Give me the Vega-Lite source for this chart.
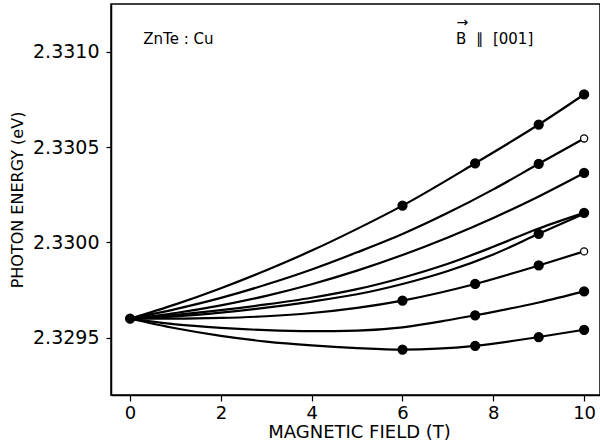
{
  "$schema": "https://vega.github.io/schema/vega-lite/v6.json",
  "width": 489,
  "height": 391,
  "autosize": "none",
  "padding": {"left": 111, "top": 4, "right": 0, "bottom": 49},
  "background": "white",
  "config": {
    "view": {"stroke": "black", "strokeWidth": 1.5},
    "font": "DejaVu Sans",
    "axis": {
      "grid": false,
      "domainColor": "black",
      "domainWidth": 1.5,
      "tickColor": "black",
      "tickWidth": 1.2,
      "labelColor": "black",
      "titleColor": "black",
      "labelFont": "DejaVu Sans",
      "titleFont": "DejaVu Sans",
      "titleFontWeight": "normal"
    }
  },
  "datasets": {
    "curves": [
      {"c": 1, "x": 0, "y": 2.3296, "m": "f"},
      {"c": 1, "x": 1, "y": 2.329675, "m": ""},
      {"c": 1, "x": 2, "y": 2.32976, "m": ""},
      {"c": 1, "x": 3, "y": 2.329854, "m": ""},
      {"c": 1, "x": 4, "y": 2.329957, "m": ""},
      {"c": 1, "x": 5, "y": 2.330071, "m": ""},
      {"c": 1, "x": 6, "y": 2.330193, "m": "f"},
      {"c": 1, "x": 7.6, "y": 2.330415, "m": "f"},
      {"c": 1, "x": 9, "y": 2.330618, "m": "f"},
      {"c": 1, "x": 10, "y": 2.330776, "m": "f"},

      {"c": 2, "x": 0, "y": 2.3296, "m": ""},
      {"c": 2, "x": 1, "y": 2.32965, "m": ""},
      {"c": 2, "x": 2, "y": 2.329709, "m": ""},
      {"c": 2, "x": 3, "y": 2.329779, "m": ""},
      {"c": 2, "x": 4, "y": 2.329858, "m": ""},
      {"c": 2, "x": 5, "y": 2.329948, "m": ""},
      {"c": 2, "x": 6, "y": 2.330044, "m": ""},
      {"c": 2, "x": 7, "y": 2.330155, "m": ""},
      {"c": 2, "x": 8, "y": 2.330278, "m": ""},
      {"c": 2, "x": 9, "y": 2.330412, "m": "f"},
      {"c": 2, "x": 10, "y": 2.330545, "m": "o"},

      {"c": 3, "x": 0, "y": 2.3296, "m": ""},
      {"c": 3, "x": 1, "y": 2.32963, "m": ""},
      {"c": 3, "x": 2, "y": 2.32967, "m": ""},
      {"c": 3, "x": 3, "y": 2.32972, "m": ""},
      {"c": 3, "x": 4, "y": 2.329781, "m": ""},
      {"c": 3, "x": 5, "y": 2.329852, "m": ""},
      {"c": 3, "x": 6, "y": 2.329934, "m": ""},
      {"c": 3, "x": 7, "y": 2.330026, "m": ""},
      {"c": 3, "x": 8, "y": 2.330128, "m": ""},
      {"c": 3, "x": 9, "y": 2.330241, "m": ""},
      {"c": 3, "x": 10, "y": 2.330364, "m": "f"},

      {"c": 4, "x": 0, "y": 2.3296, "m": ""},
      {"c": 4, "x": 1, "y": 2.32962, "m": ""},
      {"c": 4, "x": 2, "y": 2.329645, "m": ""},
      {"c": 4, "x": 3, "y": 2.329675, "m": ""},
      {"c": 4, "x": 4, "y": 2.32971, "m": ""},
      {"c": 4, "x": 5, "y": 2.329755, "m": ""},
      {"c": 4, "x": 6, "y": 2.329815, "m": ""},
      {"c": 4, "x": 7, "y": 2.329888, "m": ""},
      {"c": 4, "x": 8, "y": 2.329977, "m": ""},
      {"c": 4, "x": 9, "y": 2.330073, "m": ""},
      {"c": 4, "x": 10, "y": 2.330155, "m": "f"},

      {"c": 5, "x": 0, "y": 2.3296, "m": ""},
      {"c": 5, "x": 1, "y": 2.329612, "m": ""},
      {"c": 5, "x": 2, "y": 2.329632, "m": ""},
      {"c": 5, "x": 3, "y": 2.329658, "m": ""},
      {"c": 5, "x": 4, "y": 2.32969, "m": ""},
      {"c": 5, "x": 5, "y": 2.329728, "m": ""},
      {"c": 5, "x": 6, "y": 2.329782, "m": ""},
      {"c": 5, "x": 7, "y": 2.32985, "m": ""},
      {"c": 5, "x": 8, "y": 2.329937, "m": ""},
      {"c": 5, "x": 9, "y": 2.330045, "m": "f"},
      {"c": 5, "x": 10, "y": 2.33015, "m": ""},

      {"c": 6, "x": 0, "y": 2.3296, "m": ""},
      {"c": 6, "x": 1, "y": 2.3296, "m": ""},
      {"c": 6, "x": 2, "y": 2.329604, "m": ""},
      {"c": 6, "x": 3, "y": 2.329613, "m": ""},
      {"c": 6, "x": 4, "y": 2.32963, "m": ""},
      {"c": 6, "x": 5, "y": 2.329657, "m": ""},
      {"c": 6, "x": 6, "y": 2.329695, "m": "f"},
      {"c": 6, "x": 7.6, "y": 2.329782, "m": "f"},
      {"c": 6, "x": 9, "y": 2.329879, "m": "f"},
      {"c": 6, "x": 10, "y": 2.329953, "m": "o"},

      {"c": 7, "x": 0, "y": 2.3296, "m": ""},
      {"c": 7, "x": 1, "y": 2.32957, "m": ""},
      {"c": 7, "x": 2, "y": 2.329552, "m": ""},
      {"c": 7, "x": 3, "y": 2.32954, "m": ""},
      {"c": 7, "x": 4, "y": 2.329535, "m": ""},
      {"c": 7, "x": 5, "y": 2.329538, "m": ""},
      {"c": 7, "x": 6, "y": 2.329555, "m": ""},
      {"c": 7, "x": 7, "y": 2.329592, "m": ""},
      {"c": 7, "x": 7.6, "y": 2.329618, "m": "f"},
      {"c": 7, "x": 9, "y": 2.329685, "m": ""},
      {"c": 7, "x": 10, "y": 2.329743, "m": "f"},

      {"c": 8, "x": 0, "y": 2.3296, "m": ""},
      {"c": 8, "x": 1, "y": 2.32955, "m": ""},
      {"c": 8, "x": 2, "y": 2.32951, "m": ""},
      {"c": 8, "x": 3, "y": 2.32948, "m": ""},
      {"c": 8, "x": 4, "y": 2.32946, "m": ""},
      {"c": 8, "x": 5, "y": 2.329446, "m": ""},
      {"c": 8, "x": 6, "y": 2.329438, "m": "f"},
      {"c": 8, "x": 7.6, "y": 2.329458, "m": "f"},
      {"c": 8, "x": 9, "y": 2.329504, "m": "f"},
      {"c": 8, "x": 10, "y": 2.329542, "m": "f"}
    ],
    "labels": [
      {"x": 0.29, "y": 2.331038, "t": "ZnTe : Cu"},
      {"x": 7.18, "y": 2.331038, "t": "B\u00a0\u00a0∥\u00a0\u00a0[001]"}
    ],
    "arrow": [
      {"x": 7.32, "y": 2.33113, "t": "→"}
    ]
  },
  "layer": [
    {
      "data": {"name": "curves"},
      "mark": {"type": "line", "interpolate": "monotone", "color": "black", "strokeWidth": 2.2, "clip": true},
      "encoding": {
        "x": {
          "field": "x", "type": "quantitative",
          "scale": {"domain": [-0.42, 10.35], "nice": false, "zero": false},
          "axis": {
            "values": [0, 2, 4, 6, 8, 10],
            "format": "d",
            "labelFontSize": 18,
            "labelPadding": 3,
            "tickSize": 6,
            "title": "MAGNETIC FIELD (T)",
            "titleFontSize": 18,
            "titleX": 248,
            "titleY": 42,
            "titleBaseline": "alphabetic",
            "titleAnchor": "middle",
            "titleAlign": "center"
          }
        },
        "y": {
          "field": "y", "type": "quantitative",
          "scale": {"domain": [2.3292, 2.33125], "nice": false, "zero": false},
          "axis": {
            "values": [2.3295, 2.33, 2.3305, 2.331],
            "format": ".4f",
            "labelFontSize": 19,
            "labelPadding": 7,
            "tickSize": 5,
            "title": "PHOTON ENERGY (eV)",
            "titleFontSize": 16,
            "titleAngle": -90,
            "titleX": -94,
            "titleY": 195.5,
            "titleAlign": "center",
            "titleBaseline": "middle"
          }
        },
        "detail": {"field": "c"},
        "order": {"field": "x", "type": "quantitative"}
      }
    },
    {
      "data": {"name": "curves"},
      "transform": [{"filter": "datum.m != ''"}],
      "mark": {"type": "point", "shape": "circle", "filled": false, "stroke": "black", "strokeWidth": 1.3, "opacity": 1},
      "encoding": {
        "x": {"field": "x", "type": "quantitative"},
        "y": {"field": "y", "type": "quantitative"},
        "fill": {
          "field": "m", "type": "nominal",
          "scale": {"domain": ["f", "o"], "range": ["black", "white"]},
          "legend": null
        },
        "size": {
          "field": "m", "type": "nominal",
          "scale": {"domain": ["f", "o"], "range": [80, 50]},
          "legend": null
        }
      }
    },
    {
      "data": {"name": "labels"},
      "mark": {"type": "text", "align": "left", "baseline": "alphabetic", "fontSize": 15, "font": "DejaVu Sans", "color": "black"},
      "encoding": {
        "x": {"field": "x", "type": "quantitative"},
        "y": {"field": "y", "type": "quantitative"},
        "text": {"field": "t"}
      }
    },
    {
      "data": {"name": "arrow"},
      "mark": {"type": "text", "align": "center", "baseline": "alphabetic", "fontSize": 14, "font": "DejaVu Sans", "color": "black"},
      "encoding": {
        "x": {"field": "x", "type": "quantitative"},
        "y": {"field": "y", "type": "quantitative"},
        "text": {"field": "t"}
      }
    }
  ]
}
